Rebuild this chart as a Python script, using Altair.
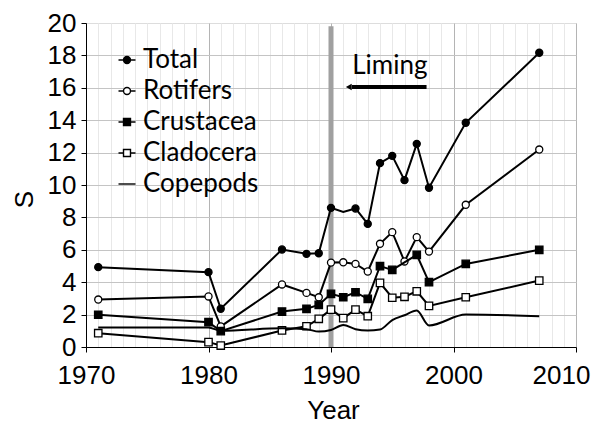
import altair as alt
import pandas as pd

series_names = ["Total", "Rotifers", "Crustacea", "Cladocera", "Copepods"]

total_years = [1971, 1980, 1981, 1986, 1988, 1989, 1990, 1991, 1992, 1993, 1994, 1995, 1996, 1997, 1998, 2001, 2007]
total_vals = [4.93, 4.62, 2.36, 6.02, 5.75, 5.79, 8.59, 8.33, 8.55, 7.6, 11.35, 11.8, 10.3, 12.54, 9.83, 13.84, 18.16]
total_hidden_marker_years = [1991]

rotifer_years = [1971, 1980, 1981, 1986, 1988, 1989, 1990, 1991, 1992, 1993, 1994, 1995, 1996, 1997, 1998, 2001, 2007]
rotifer_vals = [2.93, 3.12, 1.27, 3.86, 3.34, 3.07, 5.21, 5.23, 5.13, 4.66, 6.37, 7.09, 5.28, 6.78, 5.89, 8.78, 12.19]

crust_years = [1971, 1980, 1981, 1986, 1988, 1989, 1990, 1991, 1992, 1993, 1994, 1995, 1997, 1998, 2001, 2007]
crust_vals = [1.99, 1.53, 0.98, 2.19, 2.36, 2.6, 3.28, 3.07, 3.38, 2.97, 4.99, 4.76, 5.69, 4.0, 5.13, 6.0]

clado_years = [1971, 1980, 1981, 1986, 1988, 1989, 1990, 1991, 1992, 1993, 1994, 1995, 1996, 1997, 1998, 2001, 2007]
clado_vals = [0.85, 0.3, 0.09, 1.02, 1.28, 1.74, 2.31, 1.78, 2.31, 1.9, 3.96, 3.04, 3.1, 3.44, 2.54, 3.07, 4.1]

cope_years = [1971, 1980, 1981, 1986, 1988, 1989, 1990, 1991, 1992, 1993, 1994, 1995, 1996, 1997, 1998, 2001, 2007]
cope_vals = [1.2, 1.2, 1.0, 1.15, 1.1, 0.95, 1.05, 1.36, 1.1, 1.02, 1.08, 1.66, 1.96, 2.25, 1.33, 2.0, 1.9]

liming_year = 1990
liming_label = "Liming"

rows = []
for name, ys, vs in [("Total", total_years, total_vals), ("Rotifers", rotifer_years, rotifer_vals),
                     ("Crustacea", crust_years, crust_vals), ("Cladocera", clado_years, clado_vals),
                     ("Copepods", cope_years, cope_vals)]:
    for y, v in zip(ys, vs):
        rows.append({"series": name, "year": y, "S": v,
                     "marker": not (name == "Total" and y in total_hidden_marker_years)})
df = pd.DataFrame(rows)
annot = pd.DataFrame({"label": [liming_label]})

FONT_AX = "Liberation Sans"
FONT_TX = "Lato"

xscale = alt.Scale(domain=[1970, 2010], nice=False, zero=False)
yscale = alt.Scale(domain=[0, 20], nice=False, zero=True)

dec = "datum.value % 10 === 0"
x_axis = alt.Axis(
    values=list(range(1970, 2011)), format="d", title="Year",
    labelExpr=f"{dec} ? datum.label : ''", labelOverlap=False, labelFlush=False,
    labelFont=FONT_AX, labelFontSize=26, labelColor="black", labelPadding=10,
    labelOffset={"condition": {"test": "datum.value === 2010", "value": -15}, "value": 0},
    tickSize=5, tickColor="black",
    tickOpacity={"condition": {"test": dec, "value": 1}, "value": 0},
    grid=True, gridColor={"condition": {"test": dec, "value": "#b4b4b4"}, "value": "#e8e8e8"},
    gridWidth=1, domainColor="black", domainWidth=1,
    titleFont=FONT_AX, titleFontSize=26, titleFontWeight="normal", titleColor="black",
    titleBaseline="alphabetic", titleY=71, titleX=247, titleAlign="center",
)
y_axis = alt.Axis(
    values=list(range(0, 21, 2)), title="S", labelOverlap=False,
    labelFont=FONT_AX, labelFontSize=26, labelColor="black", labelPadding=5,
    tickSize=5, tickColor="black", grid=True, gridColor="#c4c4c4", gridWidth=1,
    gridOpacity={"condition": {"test": "datum.value === 20", "value": 0}, "value": 1},
    domainColor="black", domainWidth=1,
    titleFont=FONT_AX, titleFontSize=26, titleFontWeight="normal", titleColor="black",
    titleAngle=270, titleBaseline="alphabetic", titleAlign="center", titleX=-53.5, titleY=176,
)

X = alt.X("year:Q", scale=xscale, axis=x_axis)
Y = alt.Y("S:Q", scale=yscale, axis=y_axis)

base = alt.Chart(df)
abase = alt.Chart(annot)

liming_bar = abase.mark_rule(color="#a0a0a0", strokeWidth=5).encode(
    x=alt.datum(liming_year, type="quantitative", scale=xscale, axis=x_axis),
    y=alt.datum(0, type="quantitative", scale=yscale, axis=y_axis),
    y2=alt.datum(19.8),
)

layers = [liming_bar]
marker_style = {
    "Total": dict(shape="circle", fill="black", size=50),
    "Rotifers": dict(shape="circle", fill="white", size=50),
    "Crustacea": dict(shape="square", fill="black", size=55),
    "Cladocera": dict(shape="square", fill="white", size=55),
}
for s in series_names:
    sub = base.transform_filter(alt.datum.series == s)
    interp = "monotone" if s == "Copepods" else "linear"
    layers.append(sub.mark_line(color="black", strokeWidth=2, interpolate=interp).encode(x=X, y=Y))
    if s in marker_style:
        st = marker_style[s]
        layers.append(sub.transform_filter(alt.datum.marker).mark_point(
            shape=st["shape"], filled=True, fill=st["fill"], stroke="black", strokeWidth=1.3,
            size=st["size"], opacity=1).encode(x=X, y=Y))

# annotation: Liming arrow and label
arrow_start, arrow_end, arrow_y = 1997.8, 1991.7, 16.05
arrow_line = abase.mark_rule(color="black", strokeWidth=4).encode(
    x=alt.datum(arrow_start, type="quantitative", scale=xscale, axis=x_axis),
    x2=alt.datum(arrow_end),
    y=alt.datum(arrow_y, type="quantitative", scale=yscale, axis=y_axis))
arrow_head = abase.mark_point(shape="triangle-left", filled=True, color="black", size=45, opacity=1).encode(
    x=alt.datum(1991.45, type="quantitative", scale=xscale, axis=x_axis),
    y=alt.datum(arrow_y, type="quantitative", scale=yscale, axis=y_axis))
liming_text = abase.mark_text(font=FONT_TX, fontSize=26, baseline="alphabetic",
                              align="center", color="black").encode(
    text="label:N",
    x=alt.datum(1994.8, type="quantitative", scale=xscale, axis=x_axis),
    y=alt.datum(16.88, type="quantitative", scale=yscale, axis=y_axis))
layers += [arrow_line, arrow_head, liming_text]

# legend
p_circle = "M-1,0L-0.41,0M0.41,0L1,0M-0.41,0A0.41,0.41,0,1,1,0.41,0A0.41,0.41,0,1,1,-0.41,0Z"
p_square = "M-1,0L-0.41,0M0.41,0L1,0M-0.41,-0.41L0.41,-0.41L0.41,0.41L-0.41,0.41Z"
p_line = "M-1,0L1,0"
leg = alt.Legend(orient="none", legendX=28, legendY=24, title=None, padding=0,
                 labelFont=FONT_TX, labelFontSize=26, labelColor="black",
                 labelOffset=3, rowPadding=5, symbolSize=289,
                 symbolStrokeWidth=1.4, symbolOpacity=1)
legend_layer = base.transform_filter("false").mark_point(filled=True, strokeWidth=1.4).encode(
    x=X, y=Y,
    shape=alt.Shape("series:N", scale=alt.Scale(domain=series_names,
                    range=[p_circle, p_circle, p_square, p_square, p_line]), legend=leg),
    fill=alt.Fill("series:N", scale=alt.Scale(domain=series_names,
                  range=["black", "white", "black", "white", "black"]), legend=leg),
    stroke=alt.Stroke("series:N", scale=alt.Scale(domain=series_names,
                      range=["black"] * 5), legend=leg),
)
layers.append(legend_layer)

chart = alt.layer(*layers).properties(
    width=490, height=324, autosize="none",
    padding={"left": 78, "top": 15, "right": 15, "bottom": 76},
).configure_view(stroke=None).configure(background="white")

chart.save("out.html", embed_options={"renderer": "svg", "actions": False})
